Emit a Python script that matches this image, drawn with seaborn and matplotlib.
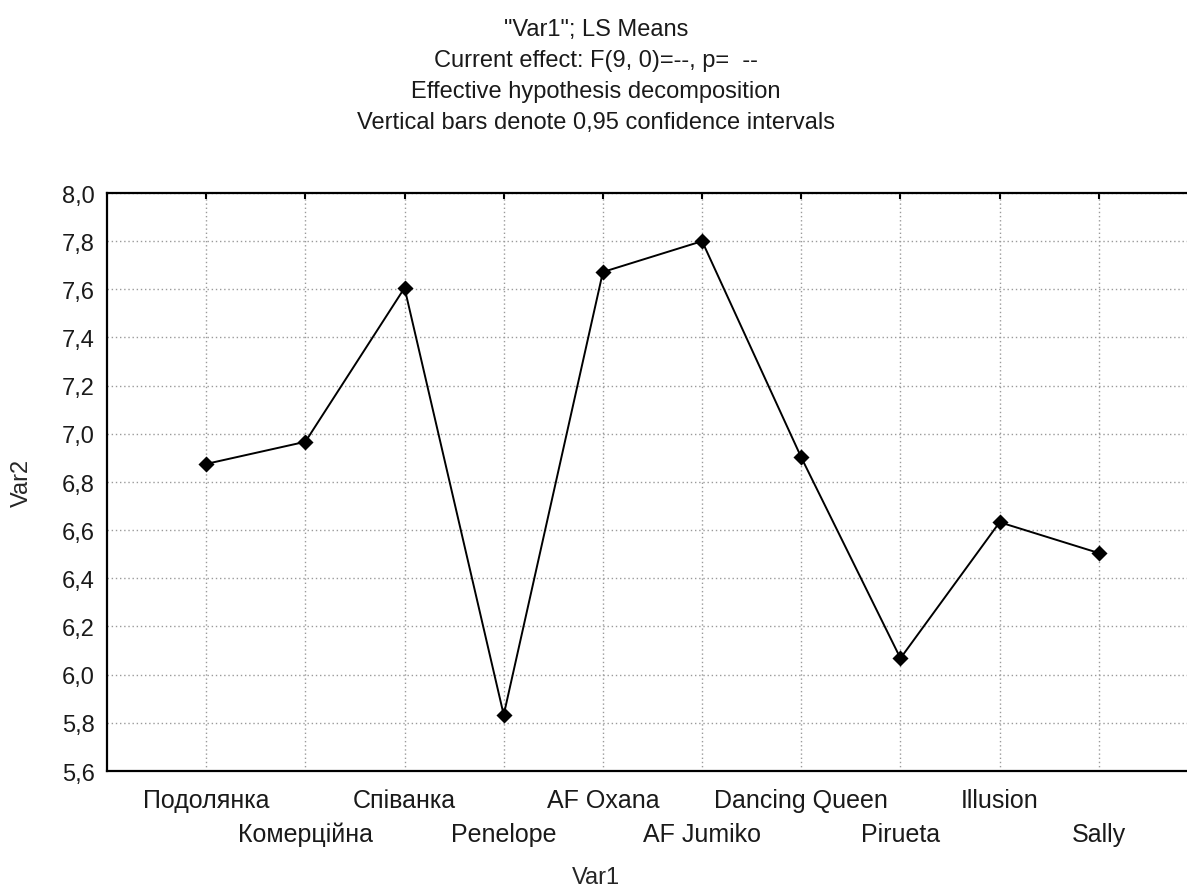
import matplotlib
matplotlib.use("Agg")
import matplotlib.pyplot as plt
from matplotlib.ticker import FixedLocator, FuncFormatter
import seaborn as sns
import pandas as pd

# LS means of Var2 for each Var1 level
categories = ["Подолянка", "Комерційна", "Співанка", "Penelope", "AF Oxana",
              "AF Jumiko", "Dancing Queen", "Pirueta", "Illusion", "Sally"]
means = [6.875, 6.967, 7.606, 5.833, 7.672, 7.800, 6.902, 6.068, 6.633, 6.505]
y_ticks = [5.6, 5.8, 6.0, 6.2, 6.4, 6.6, 6.8, 7.0, 7.2, 7.4, 7.6, 7.8, 8.0]
title_lines = ['"Var1"; LS Means',
               "Current effect: F(9, 0)=--, p=  --",
               "Effective hypothesis decomposition",
               "Vertical bars denote 0,95 confidence intervals"]

sns.set_theme(style="white")
plt.rcParams["font.family"] = ["Liberation Sans", "DejaVu Sans"]
plt.rcParams["text.color"] = "#1a1a1a"

df = pd.DataFrame({"Var1": categories, "Var2": means})

W, H = 1187, 895
fig = plt.figure(figsize=(W / 100, H / 100), dpi=100)
fig.patch.set_facecolor("white")
left, right, top, bottom = 107, 1198, 194, 772
ax = fig.add_axes([left / W, (H - bottom) / H, (right - left) / W, (bottom - top) / H])

sns.pointplot(data=df, x="Var1", y="Var2", color="black", markers="D",
              markersize=7, linewidth=1.4, errorbar=None, ax=ax)

ax.set_xlim(-1, 10)
ax.set_ylim(5.6, 8.0)

n = len(categories)
even = list(range(0, n, 2))
odd = list(range(1, n, 2))
ax.xaxis.set_major_locator(FixedLocator(even))
ax.xaxis.set_major_formatter(FuncFormatter(lambda v, p: categories[int(round(v))]))
ax.xaxis.set_minor_locator(FixedLocator(odd))
ax.xaxis.set_minor_formatter(FuncFormatter(lambda v, p: categories[int(round(v))]))

ax.yaxis.set_major_locator(FixedLocator(y_ticks))
ax.yaxis.set_major_formatter(FuncFormatter(lambda v, p: f"{v:.1f}".replace(".", ",")))

ax.tick_params(axis="both", which="both", direction="in", length=4, width=1.5,
               color="black", labelcolor="#1a1a1a", top=True, right=True)
ax.tick_params(axis="x", which="both", labelsize=18)
ax.tick_params(axis="x", which="major", pad=12)
ax.tick_params(axis="x", which="minor", pad=36.5)
ax.tick_params(axis="y", which="major", pad=9, labelsize=17)

ax.grid(True, which="both", axis="x", color="#9a9a9a", linestyle=(0, (1, 2)), linewidth=1)
ax.grid(True, which="major", axis="y", color="#9a9a9a", linestyle=(0, (1, 2)), linewidth=1)
ax.set_axisbelow(True)

for sp in ax.spines.values():
    sp.set_color("black")
    sp.set_linewidth(1.6)

ax.set_xlabel("Var1", fontsize=17, va="center")
ax.xaxis.set_label_coords((596 - left) / (right - left), (bottom - 878) / (bottom - top))
ax.set_ylabel("Var2", fontsize=17, va="center")
ax.yaxis.set_label_coords((22 - left) / (right - left), 0.5)

for i, line in enumerate(title_lines):
    yc = [30, 61, 92, 123][i]
    fig.text(596 / W, 1 - yc / H, line, ha="center", va="center", fontsize=17)

fig.savefig("out.png", dpi=100, facecolor="white")
